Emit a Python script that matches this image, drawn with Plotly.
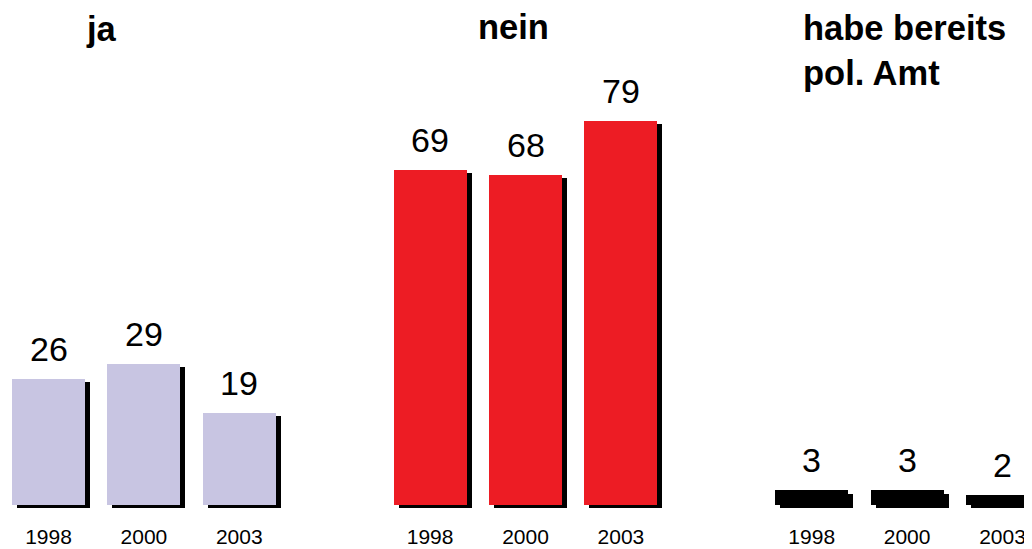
import plotly.graph_objects as go

# ---- data ----
groups = ["ja", "nein", "habe bereits<br>pol. Amt"]
years = ["1998", "2000", "2003"]
ja_values = [26, 29, 19]
nein_values = [69, 68, 79]
amt_values = [3, 3, 2]

series = [ja_values, nein_values, amt_values]
colors = ["#c8c5e2", "#ed1c24", "#000000"]

# layout constants (page body adds an 8px offset, compensated here)
BAR_W = 0.765
SH_DX = 0.052   # shadow offset right (units)
SH_DY = 0.65    # shadow offset down (units)
FONT = "Liberation Sans, Arial, sans-serif"
W, H = 1024, 541
MB = 40
PLOT_H = H - MB

fig = go.Figure()

xs_all, ys_all, cols_all = [], [], []
for g, vals in enumerate(series):
    for i, v in enumerate(vals):
        xs_all.append(g * 4 + i)
        ys_all.append(v)
        cols_all.append(colors[g])

# shadows
fig.add_trace(go.Bar(
    x=[x + SH_DX for x in xs_all],
    y=[v for v in ys_all],
    base=[-SH_DY] * len(ys_all),
    width=BAR_W,
    marker=dict(color="#000000", line=dict(width=0)),
    hoverinfo="skip",
    showlegend=False,
))
# main bars
fig.add_trace(go.Bar(
    x=xs_all,
    y=ys_all,
    width=BAR_W,
    marker=dict(color=cols_all, line=dict(width=0)),
    showlegend=False,
))

# value labels
for x, v in zip(xs_all, ys_all):
    fig.add_annotation(
        x=x, y=v, xref="x", yref="y",
        text=str(v), showarrow=False,
        yanchor="bottom", yshift=9,
        font=dict(family=FONT, size=34, color="#000000"),
    )

# group titles
title_x = [0.384, 4.493, 7.90]
title_top_px = [1, -1, 0]
for t, tx, ty in zip(groups, title_x, title_top_px):
    fig.add_annotation(
        x=tx, y=1 - ty / PLOT_H, xref="x", yref="paper",
        text="<b>" + t + "</b>", showarrow=False,
        xanchor="left", yanchor="top", align="left",
        borderpad=0,
        font=dict(family=FONT, size=34.5, color="#000000"),
    )

tickvals = xs_all
ticktext = years * 3

fig.update_layout(
    width=W, height=H,
    margin=dict(l=0, r=0, t=0, b=MB),
    plot_bgcolor="white", paper_bgcolor="white",
    barmode="overlay",
    bargap=0,
    xaxis=dict(
        range=[-0.4245, 10.309],
        tickvals=tickvals, ticktext=ticktext,
        ticks="outside", ticklen=9, tickcolor="rgba(0,0,0,0)",
        showgrid=False, zeroline=False, showline=False,
        automargin=False,
        tickfont=dict(family=FONT, size=21, color="#000000"),
        fixedrange=True,
    ),
    yaxis=dict(
        range=[-0.823, 102.26],
        showticklabels=False, showgrid=False, zeroline=False, showline=False,
        automargin=False,
        fixedrange=True,
    ),
)

fig.write_html("out.html")
